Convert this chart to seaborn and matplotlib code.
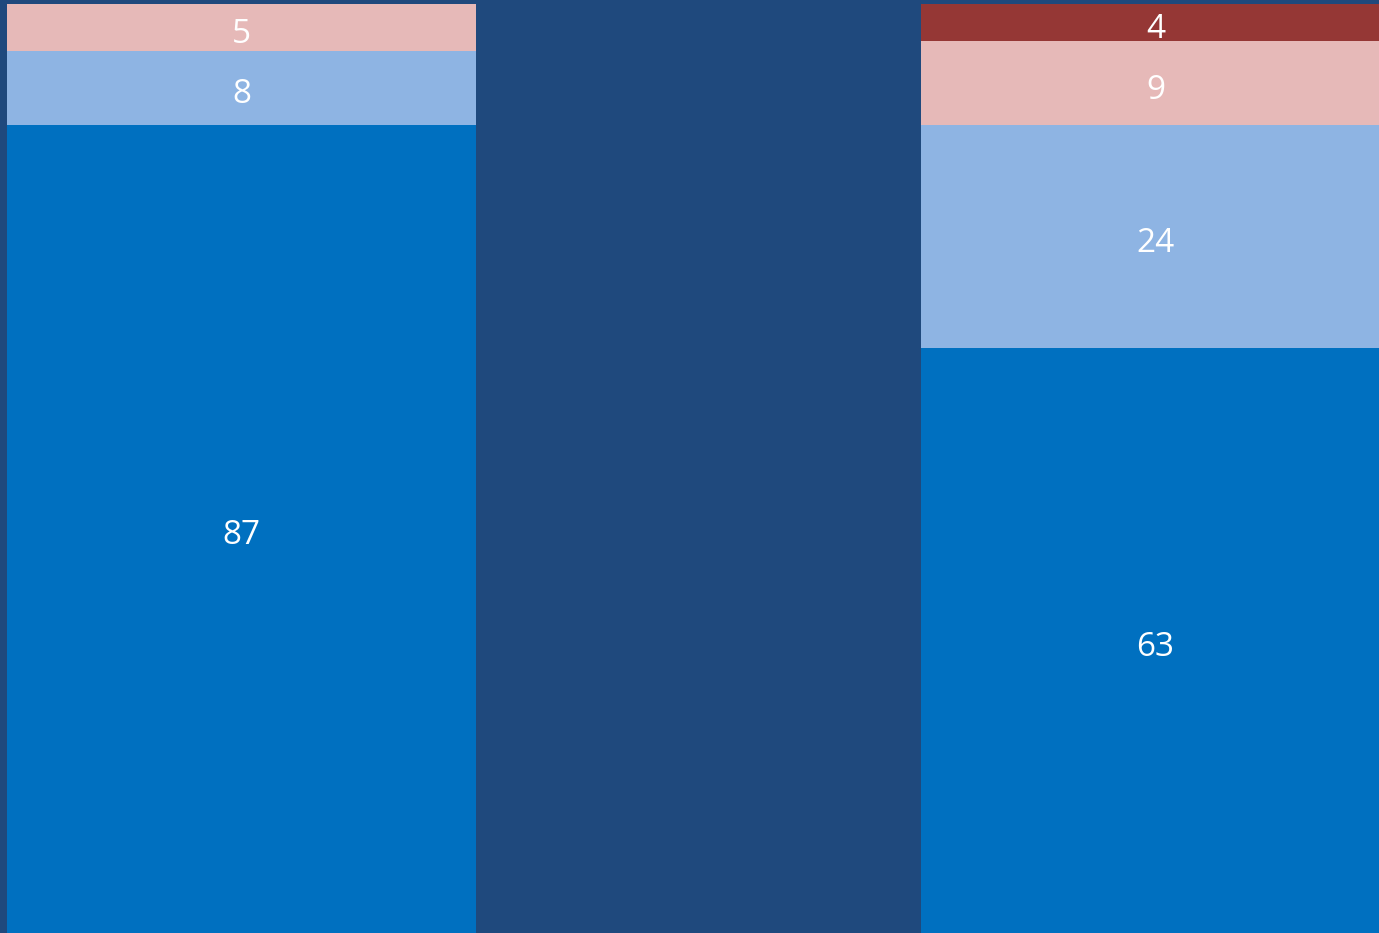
import numpy as np
import pandas as pd
import seaborn as sns
import matplotlib
matplotlib.use("Agg")
import matplotlib.pyplot as plt

categories = ["A", "B"]
seg1 = [87, 63]
seg2 = [8, 24]
seg3 = [5, 9]
seg4 = [0, 4]

colors = ["#0070C0", "#8EB4E3", "#E6B9B8", "#953735"]
series = [seg1, seg2, seg3, seg4]

sns.set_theme(style="white")
plt.rcParams["font.family"] = ["Open Sans", "DejaVu Sans"]

fig = plt.figure(figsize=(13.79, 9.33), dpi=100)
ax = fig.add_axes([0, 0, 1, 1])
fig.patch.set_facecolor("#1F497D")
ax.set_facecolor("#1F497D")

cum = np.cumsum(np.array(series), axis=0)
# draw from the top of the stack down so lower segments cover upper ones
for i in range(len(series) - 1, -1, -1):
    df = pd.DataFrame({"cat": categories, "val": cum[i]})
    sns.barplot(
        data=df,
        x="cat",
        y="val",
        color=colors[i],
        saturation=1,
        width=0.513,
        edgecolor=colors[i],
        linewidth=0,
        ax=ax
    )

for i, s in enumerate(series):
    for j, v in enumerate(s):
        if v == 0:
            continue
        mid = cum[i][j] - v / 2
        ax.annotate(str(v), xy=(j, mid), xytext=(0, -5),
                    textcoords="offset points", ha="center", va="center",
                    color="white", fontsize=24)

ax.set_xlim(-0.2642, 1.2445)
ax.set_ylim(0, 100.45)
ax.set_xlabel("")
ax.set_ylabel("")
ax.set_xticks([])
ax.set_yticks([])
for sp in ax.spines.values():
    sp.set_visible(False)

plt.savefig("out.png", dpi=100, facecolor=fig.get_facecolor())
